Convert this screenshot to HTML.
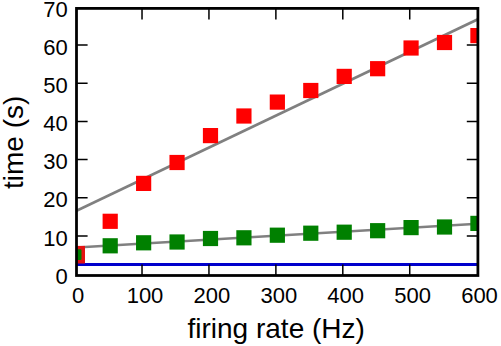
<!DOCTYPE html>
<html lang="en"><head><meta charset="utf-8"><title>time vs firing rate</title>
<style>
html,body{margin:0;padding:0;background:#fff;width:501px;height:346px;overflow:hidden;font-family:"Liberation Sans",sans-serif;}
</style></head><body>
<svg width="501" height="346" viewBox="0 0 501 346" style="display:block;position:absolute;left:0;top:0" font-family="Liberation Sans, sans-serif">
<rect width="501" height="346" fill="#fff"/>
<defs><clipPath id="ax"><rect x="76.5" y="8.4" width="401.4" height="267.1"/></clipPath></defs>
<g clip-path="url(#ax)">
<line x1="76.5" y1="210.8" x2="477.9" y2="19.2" stroke="#808080" stroke-width="2.78"/>
<line x1="76.5" y1="247.5" x2="477.9" y2="223.8" stroke="#808080" stroke-width="2.5"/>
<line x1="76.5" y1="264.5" x2="477.9" y2="264.5" stroke="#0000cc" stroke-width="2.78"/>
<rect x="102.60" y="213.70" width="15.2" height="15.2" fill="#ff0000"/>
<rect x="136.03" y="175.80" width="15.2" height="15.2" fill="#ff0000"/>
<rect x="169.46" y="154.90" width="15.2" height="15.2" fill="#ff0000"/>
<rect x="202.89" y="128.00" width="15.2" height="15.2" fill="#ff0000"/>
<rect x="236.32" y="108.40" width="15.2" height="15.2" fill="#ff0000"/>
<rect x="269.75" y="94.50" width="15.2" height="15.2" fill="#ff0000"/>
<rect x="303.18" y="82.90" width="15.2" height="15.2" fill="#ff0000"/>
<rect x="336.61" y="68.80" width="15.2" height="15.2" fill="#ff0000"/>
<rect x="370.04" y="61.10" width="15.2" height="15.2" fill="#ff0000"/>
<rect x="403.47" y="40.40" width="15.2" height="15.2" fill="#ff0000"/>
<rect x="436.90" y="34.90" width="15.2" height="15.2" fill="#ff0000"/>
<rect x="470.33" y="28.00" width="15.2" height="15.2" fill="#ff0000"/>
<rect x="76.5" y="245.9" width="8.50" height="17.60" fill="#e41212"/>
<rect x="102.60" y="238.20" width="15.2" height="15.2" fill="#008000"/>
<rect x="136.03" y="235.20" width="15.2" height="15.2" fill="#008000"/>
<rect x="169.46" y="234.40" width="15.2" height="15.2" fill="#008000"/>
<rect x="202.89" y="230.90" width="15.2" height="15.2" fill="#008000"/>
<rect x="236.32" y="230.20" width="15.2" height="15.2" fill="#008000"/>
<rect x="269.75" y="227.60" width="15.2" height="15.2" fill="#008000"/>
<rect x="303.18" y="225.60" width="15.2" height="15.2" fill="#008000"/>
<rect x="336.61" y="224.60" width="15.2" height="15.2" fill="#008000"/>
<rect x="370.04" y="223.10" width="15.2" height="15.2" fill="#008000"/>
<rect x="403.47" y="220.00" width="15.2" height="15.2" fill="#008000"/>
<rect x="436.90" y="219.40" width="15.2" height="15.2" fill="#008000"/>
<rect x="470.33" y="215.80" width="15.2" height="15.2" fill="#008000"/>
<rect x="73.5" y="249.3" width="8.00" height="10.60" rx="1.2" fill="#008000"/>
</g>
<path d="M142.02 275.5v-11.1M142.02 8.4v11.1M208.95 275.5v-11.1M208.95 8.4v11.1M275.88 275.5v-11.1M275.88 8.4v11.1M342.80 275.5v-11.1M342.80 8.4v11.1M409.73 275.5v-11.1M409.73 8.4v11.1M76.5 236.00h11.1M477.9 236.00h-11.1M76.5 197.80h11.1M477.9 197.80h-11.1M76.5 159.60h11.1M477.9 159.60h-11.1M76.5 121.40h11.1M477.9 121.40h-11.1M76.5 83.20h11.1M477.9 83.20h-11.1M76.5 45.00h11.1M477.9 45.00h-11.1" stroke="#000" stroke-width="1.5" fill="none"/>
<rect x="76.5" y="8.4" width="401.4" height="267.1" fill="none" stroke="#000" stroke-width="2.78"/>
<g fill="#000" font-size="22" font-family="Liberation Sans, sans-serif">
<text x="78.1" y="303.1" text-anchor="middle">0</text>
<text x="145.0" y="303.1" text-anchor="middle">100</text>
<text x="211.9" y="303.1" text-anchor="middle">200</text>
<text x="278.8" y="303.1" text-anchor="middle">300</text>
<text x="345.7" y="303.1" text-anchor="middle">400</text>
<text x="412.6" y="303.1" text-anchor="middle">500</text>
<text x="479.5" y="303.1" text-anchor="middle">600</text>
<text x="67.8" y="283.6" text-anchor="end">0</text>
<text x="67.8" y="245.8" text-anchor="end">10</text>
<text x="67.8" y="207.3" text-anchor="end">20</text>
<text x="67.8" y="169.4" text-anchor="end">30</text>
<text x="67.8" y="131.2" text-anchor="end">40</text>
<text x="67.8" y="93.0" text-anchor="end">50</text>
<text x="67.8" y="54.5" text-anchor="end">60</text>
<text x="67.8" y="16.6" text-anchor="end">70</text>
<text x="276.2" y="338.1" font-size="28" text-anchor="middle">firing rate (Hz)</text>
<text transform="translate(22.5 194.8) rotate(-90)" x="52.5" y="0" font-size="28" text-anchor="middle">time (s)</text>
</g>
</svg>
</body></html>
